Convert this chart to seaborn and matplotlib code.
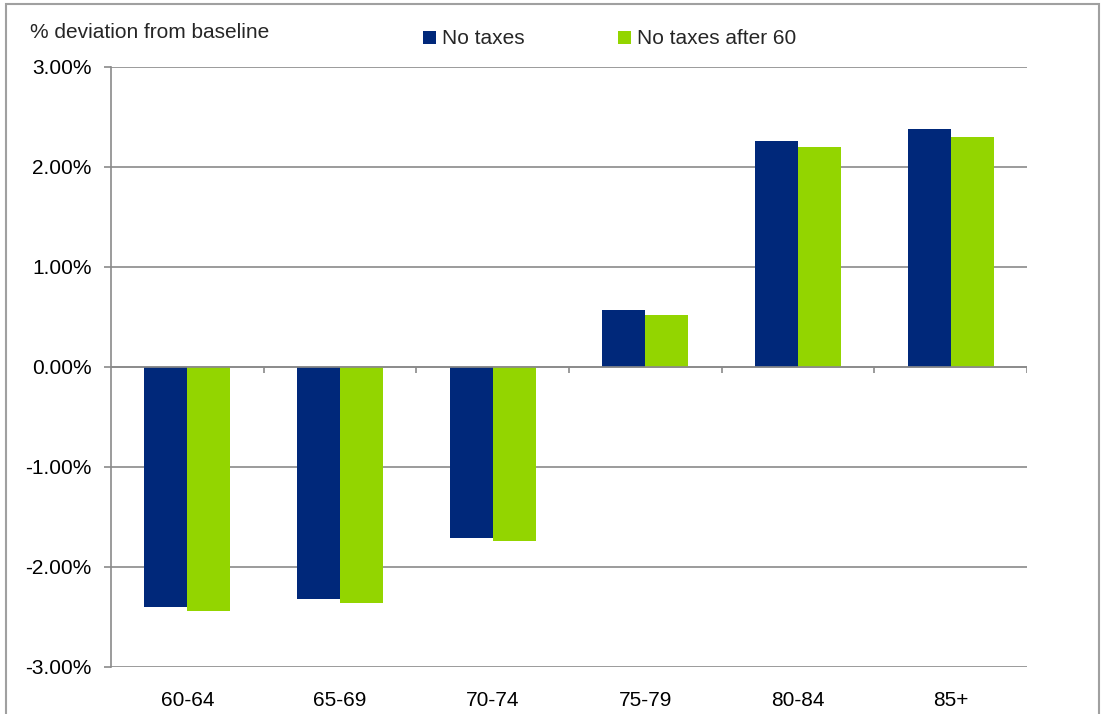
import pandas as pd
import matplotlib
matplotlib.use('Agg')
import matplotlib.pyplot as plt
import seaborn as sns
from matplotlib.patches import Rectangle

sns.set_style('white')
plt.rcParams['font.family'] = ['Liberation Sans', 'DejaVu Sans']

# 데이터 (그림에서 읽은 값, 단위: %)
age_groups = ['60-64', '65-69', '70-74', '75-79', '80-84', '85+']
no_taxes = [-2.40, -2.32, -1.71, 0.57, 2.26, 2.38]
no_taxes_after_60 = [-2.44, -2.36, -1.74, 0.52, 2.20, 2.30]
series_names = ['No taxes', 'No taxes after 60']
y_ticks = [-3, -2, -1, 0, 1, 2, 3]

df = pd.DataFrame({
    'age': age_groups * 2,
    'value': no_taxes + no_taxes_after_60,
    'series': [series_names[0]] * len(age_groups) + [series_names[1]] * len(age_groups),
})

fig = plt.figure(figsize=(11.01, 7.14), dpi=100)
ax = fig.add_axes([111 / 1101, 1 - 667 / 714, (1027 - 111) / 1101, 600 / 714])

sns.barplot(data=df, x='age', y='value', hue='series', order=age_groups,
            palette=['#00287A', '#93D500'], saturation=1, width=0.565, gap=0,
            linewidth=0, ax=ax, zorder=3)

# 격자 및 축 스타일
ax.set_ylim(-3, 3)
ax.set_xlim(-0.5, len(age_groups) - 0.5)
ax.set_yticks(y_ticks)
ax.set_yticklabels([f'{v:.2f}%' for v in y_ticks])
ax.yaxis.grid(True, color='#8a8a8a', linewidth=1.2, zorder=0)
ax.set_axisbelow(True)
for side in ['top', 'right', 'bottom']:
    ax.spines[side].set_visible(False)
ax.spines['left'].set_color('#8a8a8a')
ax.spines['left'].set_linewidth(1.2)
ax.tick_params(axis='y', left=True, length=5, width=1.2, color='#8a8a8a',
               pad=9, labelsize=15, labelcolor='black')
ax.tick_params(axis='x', bottom=False, pad=14, labelsize=15, labelcolor='black')

# 0 기준선과 범주 경계 눈금
ax.axhline(0, color='#8a8a8a', linewidth=1.2, zorder=4)
bounds = [i - 0.5 for i in range(len(age_groups) + 1)]
ax.vlines(bounds[1:], -0.055, 0, color='#8a8a8a', linewidth=1.2, zorder=4)

ax.set_xlabel('')
ax.set_ylabel('')

fig.text(30 / 1101, 1 - 33 / 714, '% deviation from baseline', fontsize=15,
         ha='left', va='center')

ax.legend(loc='center left', bbox_to_anchor=(415 / 1101, 1 - 39 / 714),
          bbox_transform=fig.transFigure, ncol=2, frameon=False, fontsize=15,
          handlelength=0.6, handleheight=0.6, handletextpad=0.3,
          columnspacing=4.5, borderaxespad=0)

# 차트 바깥 테두리
fig.patches.append(Rectangle((6 / 1101, -0.05), 1093 / 1101, 1.05 - 4 / 714,
                             transform=fig.transFigure, fill=False,
                             edgecolor='#a0a0a0', linewidth=1.5))

fig.savefig('out.png', dpi=100)
